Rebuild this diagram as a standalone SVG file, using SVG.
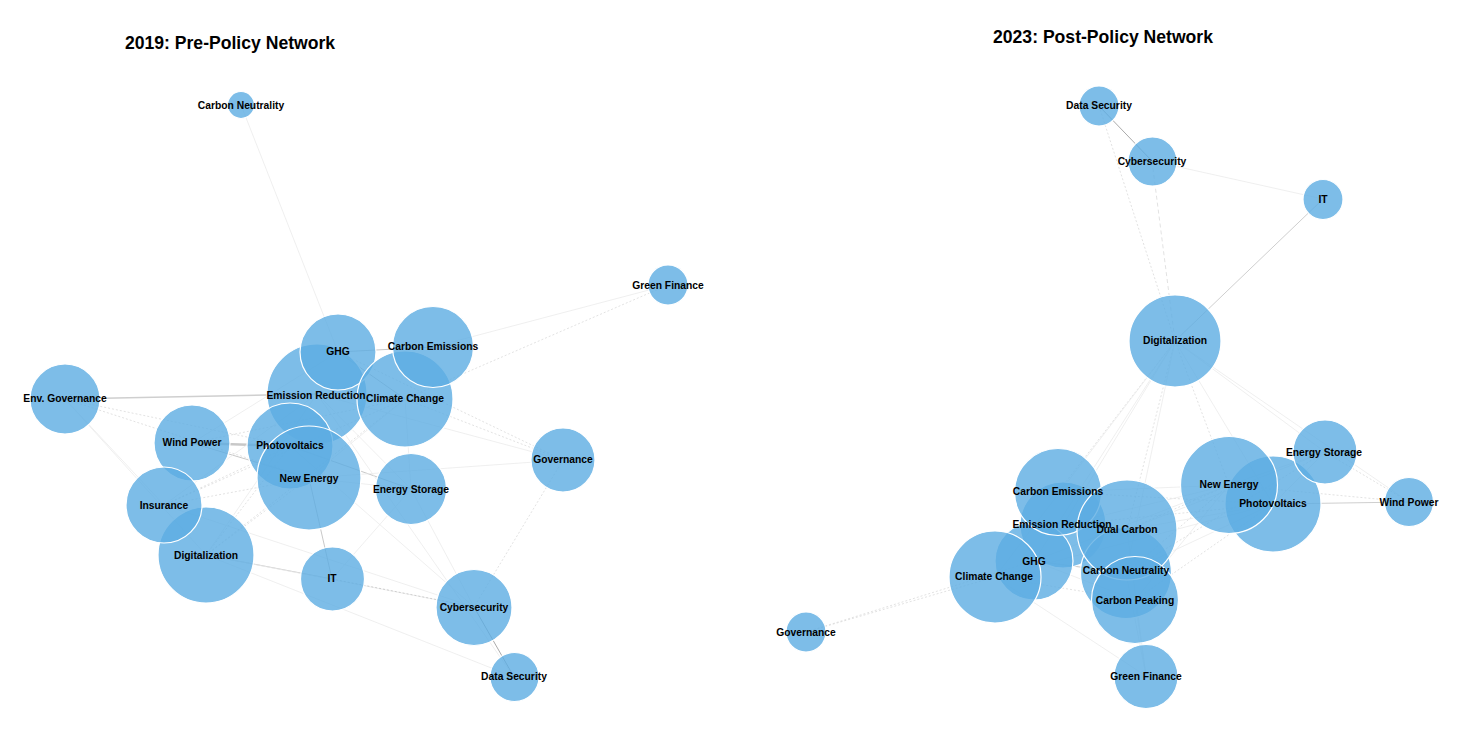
<svg xmlns="http://www.w3.org/2000/svg" width="1463" height="740" viewBox="0 0 1463 740">
<style>
.bg{fill:#fff}
.node circle{fill:#5DADE2;fill-opacity:0.8;stroke:#fff;stroke-width:1.2}
.lbl{font-family:"Liberation Sans",Arial,sans-serif;font-size:10.3px;font-weight:bold;fill:#000;text-anchor:middle}
.title{font-family:"Liberation Sans",Arial,sans-serif;font-size:17.6px;font-weight:bold;fill:#000;text-anchor:middle}
.edges line{fill:none}
.e1{stroke:#ebebeb;stroke-width:0.8}
.e2{stroke:#dadada;stroke-width:0.8;stroke-dasharray:2 2}
.e3{stroke:#c8c8c8;stroke-width:1}
.e4{stroke:#c8c8c8;stroke-width:2.5}
.e5{stroke:#aaaaaa;stroke-width:1}
.e6{stroke:#cfcfcf;stroke-width:1.5}
</style>
<rect class="bg" x="0" y="0" width="1463" height="740"/>
<text class="title" x="230" y="49">2019: Pre-Policy Network</text>
<text class="title" x="1103" y="42.5">2023: Post-Policy Network</text>

<g id="edges-2019" class="edges">
<line class="e1" x1="241" y1="105" x2="338" y2="352"/>
<line class="e1" x1="668" y1="285" x2="433" y2="347"/>
<line class="e2" x1="668" y1="285" x2="405" y2="399"/>
<line class="e6" x1="65" y1="399" x2="317" y2="394"/>
<line class="e1" x1="65" y1="399" x2="164" y2="505"/>
<line class="e1" x1="65" y1="399" x2="206" y2="555"/>
<line class="e2" x1="65" y1="399" x2="290" y2="446"/>
<line class="e2" x1="65" y1="399" x2="309" y2="478"/>
<line class="e4" x1="192" y1="443" x2="290" y2="446"/>
<line class="e3" x1="192" y1="443" x2="309" y2="478"/>
<line class="e1" x1="192" y1="443" x2="338" y2="352"/>
<line class="e2" x1="192" y1="443" x2="405" y2="399"/>
<line class="e3" x1="290" y1="446" x2="411" y2="489"/>
<line class="e1" x1="309" y1="478" x2="411" y2="489"/>
<line class="e2" x1="164" y1="505" x2="309" y2="478"/>
<line class="e2" x1="164" y1="505" x2="290" y2="446"/>
<line class="e2" x1="164" y1="505" x2="405" y2="399"/>
<line class="e1" x1="164" y1="505" x2="474" y2="607"/>
<line class="e1" x1="164" y1="505" x2="317" y2="394"/>
<line class="e3" x1="206" y1="555" x2="332" y2="579"/>
<line class="e1" x1="206" y1="555" x2="514" y2="677"/>
<line class="e2" x1="206" y1="555" x2="309" y2="478"/>
<line class="e2" x1="206" y1="555" x2="290" y2="446"/>
<line class="e2" x1="206" y1="555" x2="405" y2="399"/>
<line class="e1" x1="206" y1="555" x2="317" y2="394"/>
<line class="e1" x1="206" y1="555" x2="474" y2="607"/>
<line class="e3" x1="309" y1="478" x2="332" y2="579"/>
<line class="e2" x1="332" y1="579" x2="474" y2="607" style="stroke:#c4c4c4"/>
<line class="e1" x1="332" y1="579" x2="411" y2="489"/>
<line class="e5" x1="474" y1="607" x2="514" y2="677"/>
<line class="e2" x1="563" y1="460" x2="474" y2="607"/>
<line class="e2" x1="338" y1="352" x2="563" y2="460"/>
<line class="e2" x1="405" y1="399" x2="563" y2="460"/>
<line class="e1" x1="317" y1="394" x2="563" y2="460"/>
<line class="e1" x1="309" y1="478" x2="563" y2="460"/>
<line class="e1" x1="317" y1="394" x2="514" y2="677"/>
<line class="e1" x1="411" y1="489" x2="474" y2="607"/>
<line class="e1" x1="290" y1="446" x2="474" y2="607"/>
<line class="e3" x1="338" y1="352" x2="433" y2="347"/>
<line class="e1" x1="405" y1="399" x2="411" y2="489"/>
<line class="e1" x1="309" y1="478" x2="405" y2="399"/>
<line class="e1" x1="317" y1="394" x2="411" y2="489"/>
<line class="e3" x1="338" y1="352" x2="405" y2="399"/>
</g>

<g id="edges-2023" class="edges">
<line class="e5" x1="1099" y1="106" x2="1152" y2="161"/>
<line class="e2" x1="1099" y1="106" x2="1175" y2="341"/>
<line class="e2" x1="1152" y1="161" x2="1175" y2="341" style="stroke-dasharray:4 3"/>
<line class="e1" x1="1152" y1="161" x2="1323" y2="199"/>
<line class="e6" x1="1323" y1="199" x2="1175" y2="341" style="stroke-width:1"/>
<line class="e2" x1="1175" y1="341" x2="1058" y2="492"/>
<line class="e1" x1="1175" y1="341" x2="1063" y2="525"/>
<line class="e1" x1="1175" y1="341" x2="995" y2="577"/>
<line class="e1" x1="1175" y1="341" x2="1034" y2="561"/>
<line class="e2" x1="1175" y1="341" x2="1127" y2="530"/>
<line class="e1" x1="1175" y1="341" x2="1126" y2="573"/>
<line class="e2" x1="1175" y1="341" x2="1229" y2="485"/>
<line class="e1" x1="1175" y1="341" x2="1273" y2="504"/>
<line class="e1" x1="1175" y1="341" x2="1325" y2="452"/>
<line class="e1" x1="1175" y1="341" x2="1409" y2="502"/>
<line class="e2" x1="806" y1="632" x2="995" y2="577"/>
<line class="e2" x1="806" y1="632" x2="1034" y2="561"/>
<line class="e1" x1="995" y1="577" x2="1146" y2="676"/>
<line class="e1" x1="1135" y1="600" x2="1146" y2="676"/>
<line class="e1" x1="1126" y1="573" x2="1146" y2="676"/>
<line class="e1" x1="1127" y1="530" x2="1146" y2="676"/>
<line class="e6" x1="1273" y1="504" x2="1409" y2="502" style="stroke-width:1.2"/>
<line class="e2" x1="1229" y1="485" x2="1409" y2="502"/>
<line class="e2" x1="1325" y1="452" x2="1409" y2="502"/>
<line class="e1" x1="1325" y1="452" x2="1273" y2="504"/>
<line class="e1" x1="1325" y1="452" x2="1229" y2="485"/>
<line class="e1" x1="1058" y1="492" x2="1229" y2="485"/>
<line class="e2" x1="1058" y1="492" x2="1273" y2="504"/>
<line class="e1" x1="1063" y1="525" x2="1229" y2="485"/>
<line class="e2" x1="1063" y1="525" x2="1273" y2="504"/>
<line class="e2" x1="1127" y1="530" x2="1229" y2="485"/>
<line class="e1" x1="1127" y1="530" x2="1273" y2="504"/>
<line class="e2" x1="1126" y1="573" x2="1229" y2="485"/>
<line class="e1" x1="1126" y1="573" x2="1273" y2="504"/>
<line class="e1" x1="1135" y1="600" x2="1229" y2="485"/>
<line class="e2" x1="1135" y1="600" x2="1273" y2="504"/>
<line class="e1" x1="1034" y1="561" x2="1229" y2="485"/>
<line class="e1" x1="995" y1="577" x2="1273" y2="504"/>
<line class="e1" x1="1325" y1="452" x2="1127" y2="530"/>
<line class="e2" x1="1325" y1="452" x2="1126" y2="573"/>
<line class="e3" x1="1034" y1="561" x2="1126" y2="573"/>
<line class="e2" x1="995" y1="577" x2="1135" y2="600"/>
<line class="e1" x1="1034" y1="561" x2="1135" y2="600"/>
</g>

<g id="nodes-2019">
<g id="n19-emission-reduction" class="node"><circle cx="317" cy="394" r="50"/></g>
<g id="n19-photovoltaics" class="node"><circle cx="290" cy="446" r="43"/></g>
<g id="n19-new-energy" class="node"><circle cx="309" cy="478" r="52"/></g>
<g id="n19-ghg" class="node"><circle cx="338" cy="352" r="38"/></g>
<g id="n19-climate-change" class="node"><circle cx="405" cy="399" r="48"/></g>
<g id="n19-carbon-emissions" class="node"><circle cx="433" cy="347" r="40.5"/></g>
<g id="n19-wind-power" class="node"><circle cx="192" cy="443" r="38"/></g>
<g id="n19-digitalization" class="node"><circle cx="206" cy="555" r="48"/></g>
<g id="n19-insurance" class="node"><circle cx="164" cy="505" r="38"/></g>
<g id="n19-carbon-neutrality" class="node"><circle cx="241" cy="105" r="13.5"/></g>
<g id="n19-green-finance" class="node"><circle cx="668" cy="285" r="20"/></g>
<g id="n19-env-governance" class="node"><circle cx="65" cy="399" r="35"/></g>
<g id="n19-energy-storage" class="node"><circle cx="411" cy="489" r="35.5"/></g>
<g id="n19-governance" class="node"><circle cx="563" cy="460" r="32"/></g>
<g id="n19-it" class="node"><circle cx="332.5" cy="579" r="32"/></g>
<g id="n19-cybersecurity" class="node"><circle cx="474" cy="607.5" r="38"/></g>
<g id="n19-data-security" class="node"><circle cx="514.5" cy="677" r="24.5"/></g>
</g>

<g id="nodes-2023">
<g id="n23-emission-reduction" class="node"><circle cx="1063" cy="525" r="43"/></g>
<g id="n23-ghg" class="node"><circle cx="1034" cy="561" r="39"/></g>
<g id="n23-climate-change" class="node"><circle cx="995" cy="577" r="46"/></g>
<g id="n23-carbon-emissions" class="node"><circle cx="1058" cy="492" r="43.5"/></g>
<g id="n23-carbon-neutrality" class="node"><circle cx="1126" cy="573" r="45.5"/></g>
<g id="n23-dual-carbon" class="node"><circle cx="1127" cy="530" r="50"/></g>
<g id="n23-carbon-peaking" class="node"><circle cx="1135" cy="600" r="43.5"/></g>
<g id="n23-photovoltaics" class="node"><circle cx="1273" cy="504" r="48"/></g>
<g id="n23-new-energy" class="node"><circle cx="1229" cy="485" r="48.5"/></g>
<g id="n23-energy-storage" class="node"><circle cx="1325" cy="452" r="32"/></g>
<g id="n23-wind-power" class="node"><circle cx="1409" cy="502" r="24.5"/></g>
<g id="n23-green-finance" class="node"><circle cx="1146" cy="676.5" r="32"/></g>
<g id="n23-governance" class="node"><circle cx="806" cy="632" r="20"/></g>
<g id="n23-digitalization" class="node"><circle cx="1175" cy="341" r="46"/></g>
<g id="n23-it" class="node"><circle cx="1323" cy="199.5" r="20"/></g>
<g id="n23-cybersecurity" class="node"><circle cx="1152.5" cy="161.5" r="24.5"/></g>
<g id="n23-data-security" class="node"><circle cx="1099" cy="106" r="20"/></g>
</g>

<g id="labels-2019">
<text class="lbl" x="241" y="108.5">Carbon Neutrality</text>
<text class="lbl" x="668" y="288.5">Green Finance</text>
<text class="lbl" x="338" y="354.5">GHG</text>
<text class="lbl" x="433" y="350">Carbon Emissions</text>
<text class="lbl" x="316" y="398.5">Emission Reduction</text>
<text class="lbl" x="405" y="401.5">Climate Change</text>
<text class="lbl" x="65" y="401.5">Env. Governance</text>
<text class="lbl" x="192" y="446">Wind Power</text>
<text class="lbl" x="290" y="449">Photovoltaics</text>
<text class="lbl" x="309" y="481.5">New Energy</text>
<text class="lbl" x="411" y="492.5">Energy Storage</text>
<text class="lbl" x="563" y="462.5">Governance</text>
<text class="lbl" x="164" y="508.5">Insurance</text>
<text class="lbl" x="206" y="558.5">Digitalization</text>
<text class="lbl" x="332" y="582">IT</text>
<text class="lbl" x="474" y="610.5">Cybersecurity</text>
<text class="lbl" x="514" y="679.5">Data Security</text>
</g>

<g id="labels-2023">
<text class="lbl" x="1099" y="108.5">Data Security</text>
<text class="lbl" x="1152" y="164.5">Cybersecurity</text>
<text class="lbl" x="1323" y="202.5">IT</text>
<text class="lbl" x="1175" y="343.5">Digitalization</text>
<text class="lbl" x="1324" y="455.5">Energy Storage</text>
<text class="lbl" x="1409" y="505.5">Wind Power</text>
<text class="lbl" x="1229" y="487.5">New Energy</text>
<text class="lbl" x="1273" y="506.5">Photovoltaics</text>
<text class="lbl" x="1058" y="494.5">Carbon Emissions</text>
<text class="lbl" x="1062" y="527.5">Emission Reduction</text>
<text class="lbl" x="1127" y="533">Dual Carbon</text>
<text class="lbl" x="1034" y="564.5">GHG</text>
<text class="lbl" x="994" y="580">Climate Change</text>
<text class="lbl" x="1126" y="573.5">Carbon Neutrality</text>
<text class="lbl" x="1135" y="603.5">Carbon Peaking</text>
<text class="lbl" x="1146" y="679.5">Green Finance</text>
<text class="lbl" x="806" y="635.5">Governance</text>
</g>
</svg>
